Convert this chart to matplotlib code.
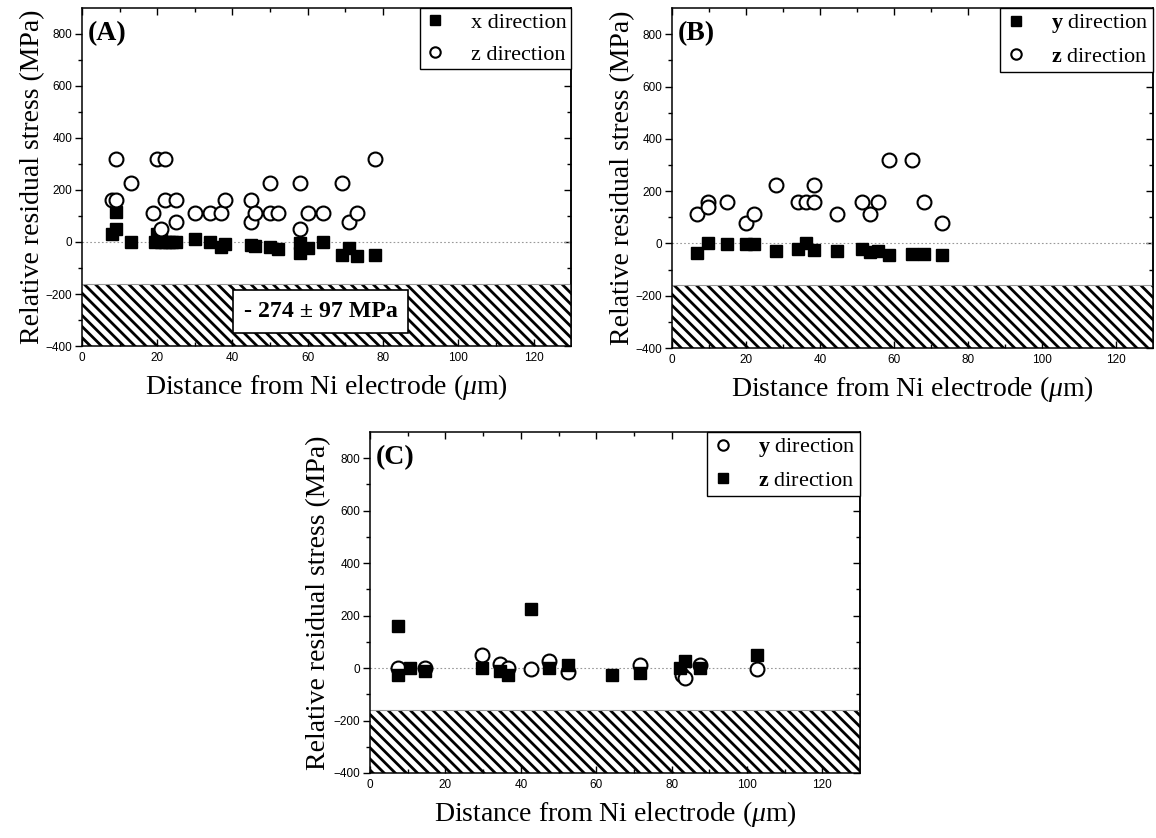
import matplotlib
matplotlib.use("Agg")
import matplotlib.pyplot as plt
from matplotlib.lines import Line2D

# ---------------- data ----------------
# Panel A
a_x_sq = [8, 9, 9, 13, 19.5, 20, 21, 21, 22, 23, 24, 25, 30, 34, 37, 38, 45, 46, 50, 52, 58, 58, 60, 64, 69, 71, 73, 78]
a_y_sq = [30, 50, 115, 0, 0, 30, 0, 40, 0, 0, 0, 0, 12, 0, -20, -8, -12, -16, -18, -26, -5, -42, -25, 0, -50, -25, -55, -50]
a_x_ci = [8, 9, 9, 13, 19, 20, 21, 22, 22, 25, 25, 30, 34, 37, 38, 45, 45, 46, 50, 50, 52, 58, 58, 60, 64, 69, 71, 73, 78]
a_y_ci = [160, 320, 160, 225, 112, 320, 50, 320, 160, 160, 77, 112, 112, 112, 160, 160, 77, 112, 225, 112, 112, 225, 50, 112, 112, 225, 77, 112, 320]

# Panel B
b_x_sq = [6.7, 9.8, 14.8, 20, 22.2, 28.1, 34, 36.2, 38.4, 44.5, 51.4, 53.5, 55.6, 58.6, 65, 68, 73]
b_y_sq = [-35, 0, -2, -2, -2, -30, -20, 0, -25, -28, -22, -33, -30, -45, -42, -42, -45]
b_x_ci = [6.7, 9.8, 9.8, 14.8, 20, 22.2, 28.1, 34, 36.2, 38.4, 38.4, 44.5, 51.4, 53.5, 55.6, 58.6, 64.8, 68, 73]
b_y_ci = [112, 160, 138, 160, 77, 112, 225, 160, 160, 160, 225, 112, 160, 112, 160, 320, 320, 160, 77]

# Panel C
c_x_ci = [7.5, 14.6, 29.6, 34.5, 36.7, 42.6, 47.6, 52.6, 71.6, 82.7, 83.5, 87.5, 102.6]
c_y_ci = [0, 0, 48, 15, 0, -5, 28, -15, 12, -25, -38, 12, -2]
c_x_sq = [7.5, 7.5, 10.6, 14.6, 29.6, 34.5, 36.7, 42.6, 47.6, 52.6, 64.3, 71.6, 82.2, 83.5, 87.5, 102.6]
c_y_sq = [160, -28, 0, -12, 0, -10, -28, 225, 0, 12, -28, -20, 0, 25, 0, 48]

hatch_top = -160
x_ticks = [0, 20, 40, 60, 80, 100, 120]
y_ticks = [-400, -200, 0, 200, 400, 600, 800]
annot_text = "- 274 ± 97 MPa"

# ---------------- style ----------------
plt.rcParams['font.family'] = ['Liberation Serif', 'DejaVu Serif']
plt.rcParams['mathtext.fontset'] = 'custom'
plt.rcParams['mathtext.rm'] = 'Liberation Serif'
plt.rcParams['mathtext.it'] = 'Liberation Serif:italic'
plt.rcParams['mathtext.bf'] = 'Liberation Serif:bold'
plt.rcParams['hatch.linewidth'] = 2.0
plt.rcParams['axes.linewidth'] = 1.1

fig = plt.figure(figsize=(11.56, 8.38), dpi=100)

axA = fig.add_axes([0.0709, 0.5871, 0.4232, 0.4034])
axB = fig.add_axes([0.5813, 0.5847, 0.4161, 0.4057])
axC = fig.add_axes([0.3201, 0.0776, 0.4239, 0.4069])

SQ = dict(marker='s', ms=8.5, color='black', ls='none')
CI = dict(marker='o', ms=10, mfc='white', mec='black', mew=1.5, ls='none')


def style(ax, label, ylabelpad=2):
    ax.set_xlim(0, 130)
    ax.set_ylim(-400, 900)
    ax.fill_between([0, 130], -400, hatch_top, facecolor='white', edgecolor='black',
                    hatch='\\\\\\', linewidth=0, zorder=0.5)
    ax.axhline(hatch_top, color='#999999', lw=0.8, zorder=0.6)
    ax.axhline(0, color='#999999', lw=0.8, ls=(0, (1.5, 2)), zorder=0.7)
    ax.set_xticks(x_ticks)
    ax.set_yticks(y_ticks)
    ax.set_xticks(range(10, 130, 20), minor=True)
    ax.set_yticks(range(-300, 900, 200), minor=True)
    ax.tick_params(axis='x', which='both', direction='in', top=True, bottom=True, pad=4)
    ax.tick_params(axis='x', which='major', length=5, width=1)
    ax.tick_params(axis='x', which='minor', length=3, width=1)
    ax.tick_params(axis='y', which='both', direction='out', left=True, right=False, pad=2)
    ax.tick_params(axis='y', which='major', length=5, width=1)
    ax.tick_params(axis='y', which='minor', length=3, width=1)
    sec = ax.secondary_yaxis('right')
    sec.set_yticks(y_ticks)
    sec.set_yticks(range(-300, 900, 200), minor=True)
    sec.tick_params(axis='y', which='both', direction='in', labelright=False)
    sec.tick_params(axis='y', which='major', length=5, width=1)
    sec.tick_params(axis='y', which='minor', length=3, width=1)
    for t in ax.get_xticklabels() + ax.get_yticklabels():
        t.set_fontfamily('Liberation Sans')
        t.set_fontsize(8.5)
    ax.set_ylabel('Relative residual stress (MPa)', fontsize=20, labelpad=ylabelpad)
    ax.set_xlabel(r'Distance from Ni electrode ($\mathit{\mu}$m)', fontsize=20, labelpad=6)
    ax.text(0.012, 0.925, label, transform=ax.transAxes, fontsize=20,
            fontweight='bold', va='center', ha='left')


# Panel A
style(axA, '(A)', ylabelpad=0.5)
axA.plot(a_x_sq, a_y_sq, zorder=3, **SQ)
axA.plot(a_x_ci, a_y_ci, zorder=4, **CI)
axA.text(63.4, -268, annot_text, fontsize=17.2, fontweight='bold', ha='center', va='center',
         zorder=6, bbox=dict(boxstyle='square,pad=0.45', facecolor='white', edgecolor='black', lw=1.2))

# Panel B
style(axB, '(B)', ylabelpad=0.5)
axB.plot(b_x_sq, b_y_sq, zorder=3, **SQ)
axB.plot(b_x_ci, b_y_ci, zorder=4, **CI)

# Panel C
style(axC, '(C)', ylabelpad=2)
axC.plot(c_x_ci, c_y_ci, zorder=3, **CI)
axC.plot(c_x_sq, c_y_sq, zorder=4, **SQ)


def legend(ax, entries):
    handles = []
    for kind, lab in entries:
        if kind == 's':
            h = Line2D([], [], marker='s', ms=7.5, color='black', ls='none')
        else:
            h = Line2D([], [], marker='o', ms=7.5, mfc='white', mec='black', mew=1.5, ls='none')
        handles.append((h, lab))
    leg = ax.legend([h for h, _ in handles], [l for _, l in handles], loc='upper right',
                    bbox_to_anchor=(1.0, 1.0), borderaxespad=0, frameon=True, fancybox=False,
                    edgecolor='black', framealpha=1, fontsize=16, handlelength=1.0,
                    handletextpad=1.1, borderpad=0.2, labelspacing=0.5)
    leg.get_frame().set_linewidth(1.0)
    leg.set_zorder(10)


legend(axA, [('s', 'x direction'), ('o', 'z direction')])
legend(axB, [('s', r'$\mathbf{y}$ direction'), ('o', r'$\mathbf{z}$ direction')])
legend(axC, [('o', r'$\mathbf{y}$ direction'), ('s', r'$\mathbf{z}$ direction')])

fig.savefig('out.png', dpi=100)
